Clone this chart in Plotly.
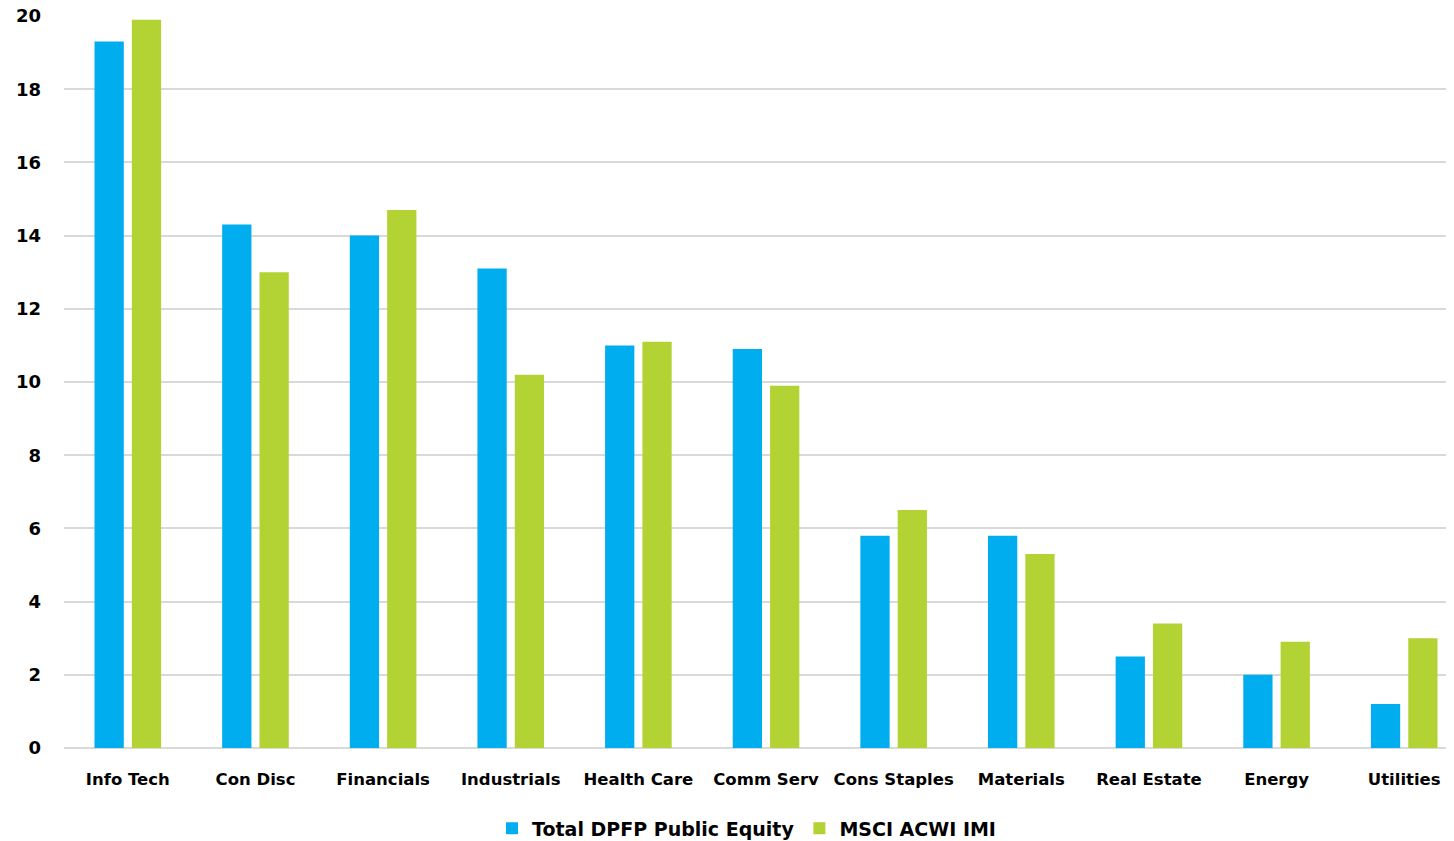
import plotly.graph_objects as go

categories = ["Info Tech", "Con Disc", "Financials", "Industrials", "Health Care",
              "Comm Serv", "Cons Staples", "Materials", "Real Estate", "Energy", "Utilities"]
dpfp = [19.3, 14.3, 14.0, 13.1, 11.0, 10.9, 5.8, 5.8, 2.5, 2.0, 1.2]
msci = [19.9, 13.0, 14.7, 10.2, 11.1, 9.9, 6.5, 5.3, 3.4, 2.9, 3.0]
y_ticks = [0, 2, 4, 6, 8, 10, 12, 14, 16, 18, 20]

FONT = "DejaVu Sans"
BLUE = "#00AEEF"
GREEN = "#B3D335"

fig = go.Figure()
fig.add_trace(go.Bar(x=categories, y=dpfp, name="Total DPFP Public Equity", showlegend=False,
                     marker=dict(color=BLUE, line=dict(width=0))))
fig.add_trace(go.Bar(x=categories, y=msci, name="MSCI ACWI IMI", showlegend=False,
                     marker=dict(color=GREEN, line=dict(width=0))))
# legend entries with larger square swatches
fig.add_trace(go.Scatter(x=[None], y=[None], mode="markers", name="Total DPFP Public Equity",
                         marker=dict(symbol="square", size=14, color=BLUE)))
fig.add_trace(go.Scatter(x=[None], y=[None], mode="markers", name="MSCI ACWI IMI",
                         marker=dict(symbol="square", size=14, color=GREEN)))

fig.update_layout(
    width=1446, height=833,
    margin=dict(l=56, r=0, t=8, b=93, autoexpand=False),
    plot_bgcolor="white", paper_bgcolor="white",
    barmode="group", bargap=0.415, bargroupgap=0.216,
    font=dict(family=FONT, size=17, color="black", weight="bold"),
    showlegend=True,
    legend=dict(orientation="h", x=0.491, xanchor="center", y=-0.110, yanchor="middle",
                font=dict(family=FONT, size=19, color="black", weight="bold"),
                itemsizing="constant", traceorder="normal", itemwidth=30),
    xaxis=dict(showgrid=False, showline=False, ticks="", tickfont=dict(size=16.5, weight="bold"),
               ticklabelstandoff=19, range=[-0.5, 10.39], categoryorder="array",
               categoryarray=categories, automargin=False),
    yaxis=dict(range=[0, 20], tickvals=y_ticks, showgrid=True, gridcolor="#d9d9d9", gridwidth=1.5,
               zeroline=True, zerolinecolor="#d9d9d9", zerolinewidth=2, showline=False,
               ticks="", tickfont=dict(size=18, weight="bold"), ticklabelstandoff=22,
               ticklabeloverflow="allow", automargin=False),
)

fig.write_html("out.html")
